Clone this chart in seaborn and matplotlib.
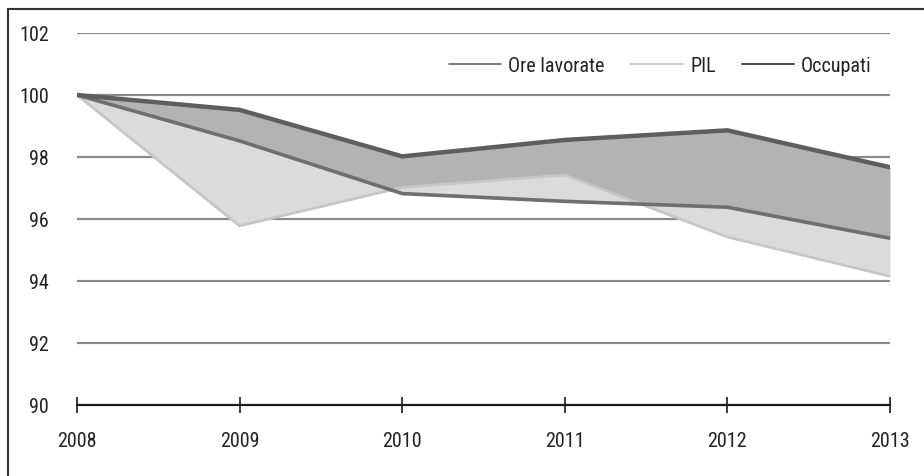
import matplotlib
matplotlib.use("Agg")
import matplotlib.pyplot as plt
from matplotlib import font_manager
from matplotlib.lines import Line2D
import pandas as pd
import seaborn as sns

# Indici 2008 = 100
anni = [2008, 2009, 2010, 2011, 2012, 2013]
ore_lavorate = [100.0, 98.52, 96.82, 96.57, 96.38, 95.38]
pil = [100.0, 95.78, 97.02, 97.42, 95.42, 94.15]
occupati = [100.0, 99.52, 98.02, 98.55, 98.86, 97.67]

serie = ["Ore lavorate", "PIL", "Occupati"]
y_ticks = [90, 92, 94, 96, 98, 100, 102]

sns.set_theme(style="white")

# carattere stretto se disponibile, altrimenti Liberation Sans più piccolo
installati = {f.name for f in font_manager.fontManager.ttflist}
stretti = ["Liberation Sans Narrow", "Arial Narrow", "Roboto Condensed",
           "DejaVu Sans Condensed", "Open Sans Condensed", "Noto Sans Condensed"]
scelto = next((n for n in stretti if n in installati), None)
if scelto is not None:
    plt.rcParams["font.family"] = [scelto, "Liberation Sans", "DejaVu Sans"]
    fs = 14.5
else:
    plt.rcParams["font.family"] = ["Liberation Sans", "DejaVu Sans"]
    fs = 13

col_occ = "#5e5e5e"
col_ore = "#6f6f6f"
col_pil = "#c6c6c6"
fill_mid = "#b3b3b3"
fill_light = "#dbdbdb"
testo = "#222222"

fig = plt.figure(figsize=(9.24, 4.77), dpi=100)
ax = fig.add_axes([77 / 924, 1 - 406 / 477, (890 - 77) / 924, (406 - 34) / 477])

df = pd.DataFrame({"anno": anni, "Ore lavorate": ore_lavorate,
                   "PIL": pil, "Occupati": occupati})

# bande tra le serie
ax.fill_between(df["anno"], df["Occupati"], df["Ore lavorate"],
                color=fill_mid, lw=0, zorder=2)
ax.fill_between(df["anno"], df["Ore lavorate"], df["PIL"],
                color=fill_light, lw=0, zorder=3)

sns.lineplot(data=df, x="anno", y="PIL", ax=ax, color=col_pil, lw=2.0,
             zorder=4, legend=False)
sns.lineplot(data=df, x="anno", y="Ore lavorate", ax=ax, color=col_ore, lw=2.6,
             zorder=5, legend=False)
sns.lineplot(data=df, x="anno", y="Occupati", ax=ax, color=col_occ, lw=3.2,
             zorder=6, legend=False)
for ln in ax.get_lines():
    ln.set_solid_capstyle("round")
    ln.set_solid_joinstyle("round")

ax.set_xlim(anni[0], anni[-1])
ax.set_ylim(y_ticks[0], y_ticks[-1])
ax.set_xticks(anni)
ax.set_xticklabels([str(a) for a in anni])
ax.set_yticks(y_ticks)
ax.set_xlabel("")
ax.set_ylabel("")

# griglia orizzontale
for v in y_ticks[1:]:
    ax.axhline(v, color="#8a8a8a", lw=1.6, zorder=1)

for s in ["left", "right", "top"]:
    ax.spines[s].set_visible(False)
ax.spines["bottom"].set_color("#1a1a1a")
ax.spines["bottom"].set_linewidth(1.6)
ax.spines["bottom"].set_zorder(7)

ax.tick_params(axis="x", bottom=True, direction="inout", length=11, width=1.2,
               color="#1a1a1a", pad=13, labelsize=fs, labelcolor=testo)
ax.tick_params(axis="y", left=False, length=0, pad=20, labelsize=fs,
               labelcolor=testo)
ax.patch.set_alpha(0)

handles = [Line2D([], [], color=col_ore, lw=1.3),
           Line2D([], [], color=col_pil, lw=1.3),
           Line2D([], [], color="#3a3a3a", lw=1.3)]
fig.legend(handles, serie, ncol=3, frameon=False, fontsize=fs,
           loc="center right", bbox_to_anchor=(890 / 924, 1 - 67 / 477),
           handlelength=2.6, handletextpad=0.35, columnspacing=1.3,
           labelcolor=testo)

# cornice della figura
fig.add_artist(Line2D([8 / 924, 8 / 924], [0, 1 - 10 / 477],
                      transform=fig.transFigure, color="#333333", lw=1.5))
fig.add_artist(Line2D([8 / 924, 1], [1 - 10 / 477, 1 - 10 / 477],
                      transform=fig.transFigure, color="#333333", lw=1.5))

fig.savefig("out.png", dpi=100)
